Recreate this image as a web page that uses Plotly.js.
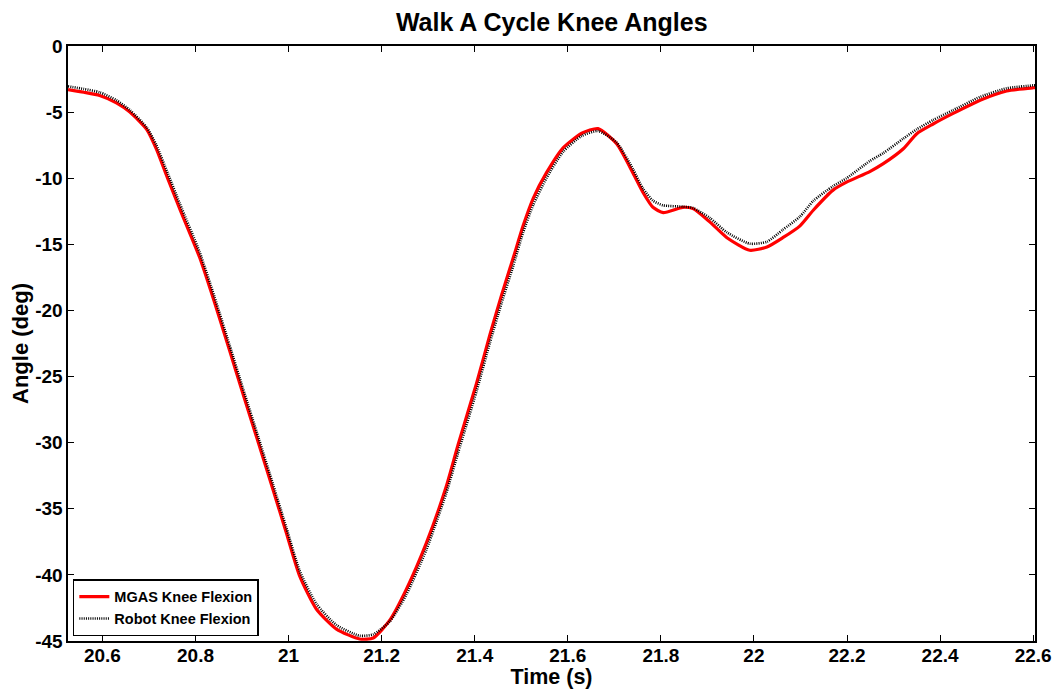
<!DOCTYPE html>
<html>
<head>
<meta charset="utf-8">
<script src="https://cdn.plot.ly/plotly-3.0.1.min.js"></script>
<style>html,body{margin:0;padding:0;background:#fff;}#chart{width:1057px;height:689px;}</style>
</head>
<body>
<div id="chart"></div>
<script>
const timeS = [20.526,20.56,20.594,20.63,20.659,20.695,20.716,20.74,20.766,20.809,20.841,20.873,20.902,20.936,20.967,20.995,21.024,21.060,21.103,21.153,21.182,21.218,21.253,21.296,21.339,21.364,21.404,21.433,21.458,21.483,21.504,21.526,21.554,21.590,21.63,21.665,21.705,21.740,21.762,21.783,21.805,21.847,21.869,21.905,21.942,21.991,22.028,22.062,22.099,22.128,22.170,22.199,22.249,22.278,22.321,22.350,22.385,22.428,22.486,22.543,22.600,22.604];
const mgasKnee = [-3.30,-3.50,-3.74,-4.30,-5.00,-6.30,-7.80,-10.0,-12.3,-16.0,-19.4,-23.0,-26.3,-30.1,-33.6,-36.8,-40.1,-42.6,-44.1,-44.85,-44.77,-43.4,-41.1,-37.6,-33.3,-30.2,-25.5,-21.8,-18.8,-16.0,-13.6,-11.5,-9.6,-7.7,-6.6,-6.25,-7.4,-9.6,-11.1,-12.2,-12.6,-12.2,-12.3,-13.3,-14.5,-15.45,-15.2,-14.5,-13.6,-12.4,-10.9,-10.3,-9.5,-8.9,-7.77,-6.63,-5.9,-5.1,-4.1,-3.4,-3.16,-3.15];
const robotKnee = [-3.05,-3.25,-3.5,-4.1,-4.85,-6.15,-7.5,-9.6,-11.9,-15.6,-19.0,-22.6,-25.9,-29.7,-33.2,-36.4,-39.7,-42.2,-43.8,-44.6,-44.5,-43.5,-41.5,-38.1,-33.8,-30.8,-26.1,-22.4,-19.4,-16.6,-14.1,-12.0,-10.0,-8.0,-6.8,-6.43,-7.3,-9.3,-10.8,-11.7,-12.05,-12.15,-12.25,-13.0,-14.1,-14.95,-14.8,-13.9,-12.9,-11.7,-10.6,-10.0,-8.7,-8.1,-7.0,-6.3,-5.6,-4.85,-3.85,-3.2,-2.98,-2.97];
const xTicks = [20.6,20.8,21,21.2,21.4,21.6,21.8,22,22.2,22.4,22.6];
const xTickLabels = ["20.6","20.8","21","21.2","21.4","21.6","21.8","22","22.2","22.4","22.6"];
const yTicks = [-45,-40,-35,-30,-25,-20,-15,-10,-5,0];
const yTickLabels = ["-45","-40","-35","-30","-25","-20","-15","-10","-5","0"];

const fam = "Liberation Sans, Arial, sans-serif";
const traces = [
  {x: timeS, y: mgasKnee, type: 'scatter', mode: 'lines', name: 'MGAS Knee Flexion',
   line: {color: '#ff0000', width: 3.2, shape: 'spline', smoothing: 0.6}},
  {x: timeS, y: robotKnee, type: 'scatter', mode: 'lines', name: 'Robot Knee Flexion',
   line: {color: '#000000', width: 2.6, dash: '1px,1.2px', shape: 'spline', smoothing: 0.6}}
];
const axisCommon = {
  showgrid: false, zeroline: false, showline: true, linecolor: '#000', linewidth: 1.6,
  mirror: 'ticks', ticks: 'inside', ticklen: 6, tickwidth: 1, tickcolor: '#000',
  tickfont: {family: fam, size: 19, color: '#000', weight: 'bold'}
};
const layout = {
  width: 1057, height: 689,
  margin: {l: 68, r: 22, t: 46, b: 48},
  paper_bgcolor: '#fff', plot_bgcolor: '#fff',
  title: {text: 'Walk A Cycle Knee Angles', x: 0.522, xanchor: 'center', y: 0.967, yanchor: 'middle',
          font: {family: fam, size: 25, color: '#000', weight: 'bold'}},
  xaxis: Object.assign({}, axisCommon, {
    range: [20.526, 22.604], tickmode: 'array', tickvals: xTicks, ticktext: xTickLabels,
    ticklabelstandoff: -3,
    title: {text: 'Time (s)', standoff: 0, font: {family: fam, size: 21.5, color: '#000', weight: 'bold'}}
  }),
  yaxis: Object.assign({}, axisCommon, {
    range: [-45, 0], tickmode: 'array', tickvals: yTicks, ticktext: yTickLabels,
    title: {text: 'Angle (deg)', standoff: 0, font: {family: fam, size: 22, color: '#000', weight: 'bold'}}
  }),
  showlegend: true,
  legend: {x: 0.005, y: 0.008, xanchor: 'left', yanchor: 'bottom', bgcolor: '#fff',
           bordercolor: '#000', borderwidth: 1.5, tracegroupgap: 0, itemwidth: 30,
           font: {family: fam, size: 14.5, color: '#000', weight: 'bold'}}
};
Plotly.newPlot('chart', traces, layout, {displayModeBar: false, staticPlot: true});
</script>
</body>
</html>
